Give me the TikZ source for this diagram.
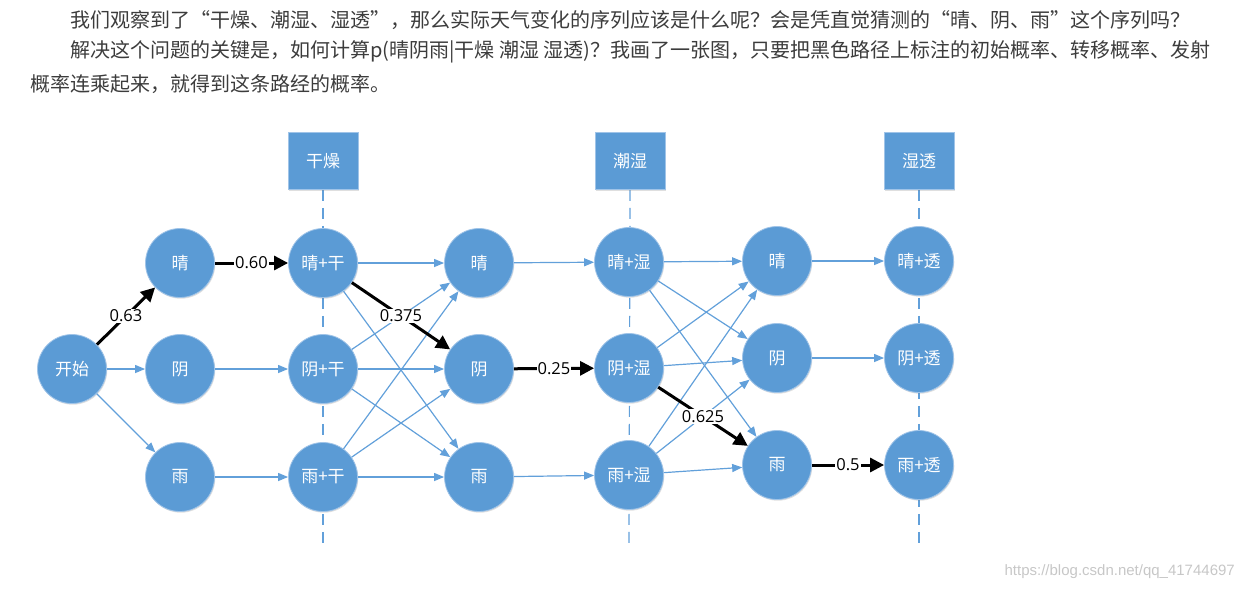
\documentclass[tikz,border=0pt]{standalone}
\usepackage{fontspec}
\usepackage{tikz}
\usetikzlibrary{arrows.meta,shadows,backgrounds}
\newfontfamily\cjk{Noto Sans CJK SC}
\newfontfamily\lab{Open Sans}
\newfontfamily\wm{Liberation Sans}
\definecolor{nodeblue}{RGB}{91,155,213}
\definecolor{lineblue}{RGB}{98,160,218}
\definecolor{rimblue}{RGB}{160,196,232}
\definecolor{bodytext}{RGB}{60,60,60}

\begin{document}
\begin{tikzpicture}[x=1pt, y=-1pt,
	state/.style={circle, fill=nodeblue, draw=rimblue, line width=0.8pt, minimum size=69pt, inner sep=0pt, text=white, font=\cjk\fontsize{17}{17}\selectfont, drop shadow={opacity=0.25, shadow xshift=0.8pt, shadow yshift=-1.2pt}},
	obs/.style={rectangle, fill=nodeblue, draw=rimblue, line width=0.8pt, minimum width=70pt, minimum height=57pt, text=white, font=\cjk\fontsize{17}{17}\selectfont, drop shadow={opacity=0.25, shadow xshift=0.8pt, shadow yshift=-1.2pt}},
	move/.style={draw=lineblue, line width=1.2pt, -{Triangle[length=10pt, width=8pt]}},
	best/.style={draw=black, line width=3pt, -{Triangle[length=14pt, width=14pt]}},
	prob/.style={fill=white, inner sep=1pt, text=black, font=\lab\fontsize{16.5}{16.5}\selectfont},
	guide/.style={draw=lineblue, line width=1.2pt, dash pattern=on 11pt off 7pt},
	para/.style={anchor=west, inner sep=0pt, text=bodytext, font=\cjk\fontsize{20}{20}\selectfont}]
			\useasboundingbox (0, 0) rectangle (1243, 590);
			\node[para] (T1) at (70, 20) {我们观察到了“干燥、潮湿、湿透”，那么实际天气变化的序列应该是什么呢？会是凭直觉猜测的“晴、阴、雨”这个序列吗？};
			\node[para] (T2) at (70, 52) {解决这个问题的关键是，如何计算p(晴阴雨|干燥 潮湿 湿透)？我画了一张图，只要把黑色路径上标注的初始概率、转移概率、发射};
			\node[para] (T3) at (30, 84) {概率连乘起来，就得到这条路经的概率。};
			\node[obs] (G2) at (323, 161) {干燥};
			\node[obs] (G4) at (630, 161) {潮湿};
			\node[obs] (G6) at (919, 161) {湿透};
			\node[state] (K) at (72, 369) {开始};
			\node[state] (Q1) at (180, 263) {晴};
			\node[state] (N1) at (180, 369) {阴};
			\node[state] (R1) at (180, 477) {雨};
			\node[state] (Q2) at (323, 263) {晴+干};
			\node[state] (N2) at (323, 369) {阴+干};
			\node[state] (R2) at (323, 477) {雨+干};
			\node[state] (Q3) at (479, 263) {晴};
			\node[state] (N3) at (479, 369) {阴};
			\node[state] (R3) at (479, 477) {雨};
			\node[state] (Q4) at (629, 262) {晴+湿};
			\node[state] (N4) at (629, 368) {阴+湿};
			\node[state] (R4) at (629, 475) {雨+湿};
			\node[state] (Q5) at (777, 261) {晴};
			\node[state] (N5) at (777, 358) {阴};
			\node[state] (R5) at (777, 465) {雨};
			\node[state] (Q6) at (919, 261) {晴+透};
			\node[state] (N6) at (919, 358) {阴+透};
			\node[state] (R6) at (919, 465) {雨+透};
			\coordinate (E2) at (323, 548);
			\coordinate (E4) at (629, 548);
			\coordinate (E6) at (919, 546);
			\begin{pgfonlayer}{background}
			\draw[guide] (G2.south) -- (E2);
			\draw[guide] (G4.south) -- (E4);
			\draw[guide] (G6.south) -- (E6);
			\end{pgfonlayer}
			\draw[best] (K) -- node[prob] {0.63} (Q1);
			\draw[move] (K) -- (N1);
			\draw[move] (K) -- (R1);
			\draw[best] (Q1) -- node[prob] {0.60} (Q2);
			\draw[move] (N1) -- (N2);
			\draw[move] (R1) -- (R2);
			\draw[move] (Q2) -- (Q3);
			\draw[move] (Q2) -- (R3);
			\draw[move] (N2) -- (Q3);
			\draw[move] (N2) -- (N3);
			\draw[move] (N2) -- (R3);
			\draw[move] (R2) -- (Q3);
			\draw[move] (R2) -- (N3);
			\draw[move] (R2) -- (R3);
			\draw[best] (Q2) -- node[prob] {0.375} (N3);
			\draw[move] (Q3) -- (Q4);
			\draw[best] (N3) -- node[prob] {0.25} (N4);
			\draw[move] (R3) -- (R4);
			\draw[move] (Q4) -- (Q5);
			\draw[move] (Q4) -- (N5);
			\draw[move] (Q4) -- (R5);
			\draw[move] (N4) -- (Q5);
			\draw[move] (N4) -- (N5);
			\draw[move] (R4) -- (Q5);
			\draw[move] (R4) -- (N5);
			\draw[move] (R4) -- (R5);
			\draw[best] (N4) -- node[prob] {0.625} (R5);
			\draw[move] (Q5) -- (Q6);
			\draw[move] (N5) -- (N6);
			\draw[best] (R5) -- node[prob] {0.5} (R6);
			\node[anchor=east, inner sep=0pt, text=black!22, font=\wm\fontsize{15}{15}\selectfont] (W) at (1235, 572) {https://blog.csdn.net/qq\_41744697};
		\end{tikzpicture}
\end{document}
